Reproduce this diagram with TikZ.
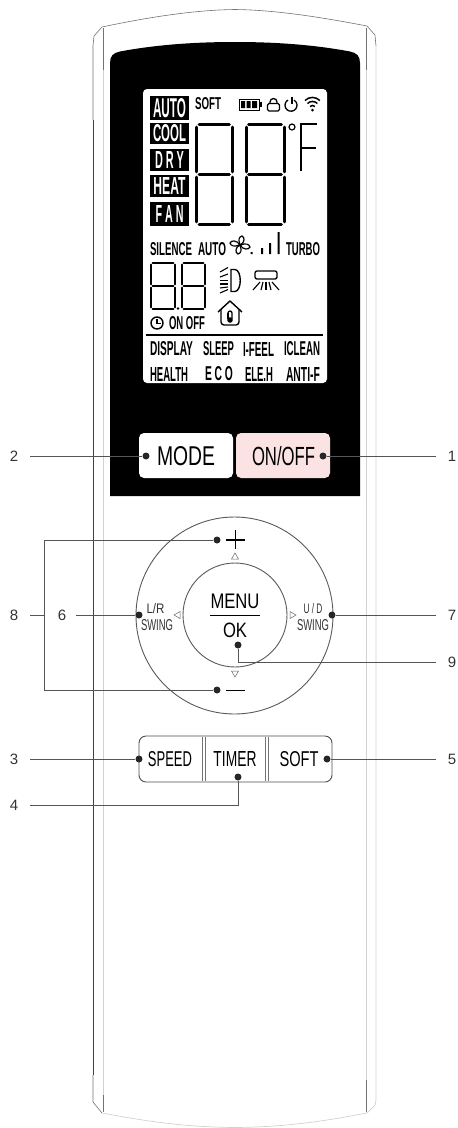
\documentclass[tikz,border=0pt]{standalone}
\usepackage{fontspec}
\usepackage{graphicx}
\setmainfont{Liberation Sans}
\usetikzlibrary{calc}
\definecolor{leadc}{HTML}{555555}
\definecolor{pinkb}{HTML}{FBE3E3}
\newcommand{\fit}[3]{\resizebox{#1pt}{#2pt}{#3}}
\newcommand{\lcd}[3]{\resizebox{#1pt}{#2pt}{\bfseries #3}}
\newcommand{\sevseg}[6]{%
 \begin{scope}[line width=#5pt,line cap=round]
 \draw ({#1+#6},{#2}) -- ({#1+#3-#6},{#2});
 \draw ({#1+#6},{#2+#4/2}) -- ({#1+#3-#6},{#2+#4/2});
 \draw ({#1+#6},{#2+#4}) -- ({#1+#3-#6},{#2+#4});
 \draw ({#1},{#2+#6}) -- ({#1},{#2+#4/2-#6});
 \draw ({#1+#3},{#2+#6}) -- ({#1+#3},{#2+#4/2-#6});
 \draw ({#1},{#2+#4/2+#6}) -- ({#1},{#2+#4-#6});
 \draw ({#1+#3},{#2+#4/2+#6}) -- ({#1+#3},{#2+#4-#6});
 \end{scope}}
\tikzset{
 leadline/.style={draw=leadc,line width=1pt},
 pin/.style={circle,fill=black!85,inner sep=0pt,minimum size=7pt},
 callout/.style={font=\fontsize{15}{15}\selectfont,text=black!80,inner sep=0pt},
 modebox/.style={fill=black,text=white,inner sep=0pt,minimum width=39pt},
 lcdtext/.style={inner sep=0pt,text=black},
 btntext/.style={inner sep=0pt,text=black},
 hull/.style={draw=black!55,line width=0.6pt},
 hullfaint/.style={draw=black!18,line width=0.7pt},
 ring/.style={draw=black!65,line width=0.9pt},
 key/.style={draw=black!70,line width=0.9pt,rounded corners=7pt},
 tick/.style={draw=black!60,line width=0.5pt,fill=white},
}
\begin{document}
\begin{tikzpicture}[x=1pt,y=-1pt]
\useasboundingbox (0,0) rectangle (458,1128);
% hull
\draw[hull] (93,120) -- (93,46) -- (94,36) -- (102,27) .. controls (140,19) and (190,10) .. (235,9.5) .. controls (280,10) and (330,19) .. (367,26) -- (375,35) -- (376,46);
\draw[hullfaint] (376,46) -- (376,1100) -- (375,1105) -- (367,1113);
\draw[draw=black!75,line width=0.8pt] (93,120) -- (93,1075);
\draw[hull] (93,1075) -- (93,1102) -- (102,1113);
\draw[hullfaint] (102,1113) .. controls (140,1120) and (180,1127) .. (235,1127.5) .. controls (290,1127) and (330,1120) .. (367,1113);
\draw[hullfaint] (103,28) -- (103,1095);
\draw[hull] (103,1095) -- (103,1112);
\draw[hullfaint] (366,28) -- (366,1080);
\draw[hull] (366,1080) -- (366,1112);
\draw[hull] (103,28) -- (103,70);
\draw[hull] (366,28) -- (366,70);
% black panel
\fill[black] (110,496) -- (110,63) .. controls (110,56) and (113,53) .. (120,51.5) .. controls (160,44) and (200,42) .. (235,42) .. controls (270,42) and (310,44) .. (350,51.5) .. controls (357,53) and (360,56) .. (360,63) -- (360,496) -- cycle;
\fill[white,rounded corners=4pt] (143,89) rectangle (327,383);
% mode labels
\node[modebox,minimum height=24pt] (mauto) at (169.5,108) {\lcd{33}{19}{AUTO}};
\node[modebox,minimum height=21pt] (mcool) at (169.5,133.5) {\lcd{33}{17}{COOL}};
\node[modebox,minimum height=22pt] (mdry) at (169.5,160) {\lcd{29}{17}{D R Y}};
\node[modebox,minimum height=22pt] (mheat) at (169.5,186) {\lcd{32}{17}{HEAT}};
\node[modebox,minimum height=24pt] (mfan) at (169.5,214) {\lcd{28}{17}{F A N}};
\node[lcdtext] (tsoft) at (208,104) {\lcd{26}{12}{SOFT}};
% battery
\draw[line width=1pt] (239,99) rectangle (259,110);
\fill (241,101) rectangle (245,108) (246.5,101) rectangle (250.5,108) (252,101) rectangle (257,108);
\fill (260,102) rectangle (262,107);
% lock
\draw[line width=1.3pt,rounded corners=1.5pt] (267.5,103.5) rectangle (279.5,111);
\draw[line width=1.3pt] (270,103.5) -- (270,102) arc[start angle=180,end angle=360,radius=3.5] -- (277,103.5);
% power
\draw[line width=1.3pt] (288,100) arc[start angle=240,end angle=-60,radius=6];
\draw[line width=1.3pt] (292,97) -- (292,104);
% wifi
\begin{scope}[line width=1.5pt]
\draw (305,100.5) arc[start angle=225,end angle=315,radius=10.5];
\draw (307.5,103.5) arc[start angle=225,end angle=315,radius=7];
\draw (310,106.5) arc[start angle=225,end angle=315,radius=3.5];
\fill (312.5,110) circle[radius=1.5];
\end{scope}
% big digits
\sevseg{196.5}{124.5}{35.5}{100}{3}{2.6}
\sevseg{246}{124.5}{38}{100}{3}{2.6}
% degree F
\draw[line width=1.2pt] (292,127) circle[radius=3];
\draw[line width=1.8pt] (317,124) -- (301,124) -- (301,171);
\draw[line width=1.8pt] (301,148) -- (316,148);
% fan row
\node[lcdtext] (tsil) at (171,249) {\lcd{42}{13}{SILENCE}};
\node[lcdtext] (tauto) at (212,249) {\lcd{28}{13}{AUTO}};
\begin{scope}[line width=1.2pt]
\draw (240,245) .. controls (234,247) and (231,246) .. (230,243) .. controls (231,240) and (237,240) .. (240,245);
\draw (240,245) .. controls (238,239) and (239,237) .. (242,236) .. controls (245,237) and (245,243) .. (240,245);
\draw (240,245) .. controls (246,243) and (249,244) .. (250,247) .. controls (249,250) and (243,250) .. (240,245);
\draw (240,245) .. controls (242,251) and (241,253) .. (238,254) .. controls (235,253) and (235,247) .. (240,245);
\end{scope}
\fill (250.5,252) rectangle (252.5,254) (261,248) rectangle (263,254) (269,243) rectangle (271,254) (277.5,232) rectangle (279.5,254);
\node[lcdtext] (tturbo) at (303,249) {\lcd{34}{13}{TURBO}};
% small digits
\sevseg{151}{263}{24}{46}{1.7}{1.5}
\sevseg{182}{263}{23}{46}{1.7}{1.5}
\fill (178,308.5) circle[radius=1.3];
% clock and on off
\draw[line width=1.4pt] (157,323) circle[radius=6];
\draw[line width=1.2pt] (157,319) -- (157,323.5) -- (161,323.5);
\node[lcdtext] (tonoff) at (187,323.5) {\lcd{36}{13}{ON OFF}};
% light icon
\draw[line width=1.4pt] (231,269.5) -- (235,269.5) .. controls (242,270) and (242,291) .. (235,291.5) -- (231,291.5) -- cycle;
\begin{scope}[line width=1.1pt]
\draw (220,272) -- (228,267.5);
\draw (220,277) -- (228,274);
\draw (220,280.5) -- (228,280.5);
\draw (220,284) -- (228,284);
\draw (220,288) -- (228,287);
\draw (220,293) -- (228,289.5);
\end{scope}
% air icon
\draw[line width=1.3pt,rounded corners=2pt] (255,279) -- (255,271) -- (277,271) -- (277,279) -- cycle;
\begin{scope}[line width=1.1pt]
\draw (260,282) -- (253,290);
\draw (263,282) -- (261,290);
\draw (266,282) -- (266,290);
\draw (269,282) -- (271,290);
\draw (272,282) -- (279,290);
\end{scope}
% house icon
\draw[line width=1.4pt,line join=round] (218,312) -- (230,301) -- (242,312);
\draw[line width=1.4pt,rounded corners=3pt] (221,309) -- (221,325) -- (239,325) -- (239,309);
\draw[line width=1.3pt] (228,313) arc[start angle=180,end angle=360,radius=2] -- (232,319);
\draw[line width=1.3pt] (228,313) -- (228,319);
\fill (230,320) circle[radius=2.8];
% separator
\draw[line width=1.3pt] (146,335) -- (323,335);
\node[lcdtext] (t1) at (171.5,349) {\lcd{43}{14}{DISPLAY}};
\node[lcdtext] (t2) at (218.5,349) {\lcd{31}{14}{SLEEP}};
\node[lcdtext] (t3) at (258.5,349) {\lcd{31}{14}{I-FEEL}};
\node[lcdtext] (t4) at (302,349) {\lcd{36}{14}{ICLEAN}};
\node[lcdtext] (t5) at (169,374) {\lcd{38}{14}{HEALTH}};
\node[lcdtext] (t6) at (219,374) {\lcd{28}{14}{E C O}};
\node[lcdtext] (t7) at (259,374) {\lcd{28}{14}{ELE.H}};
\node[lcdtext] (t8) at (303,374) {\lcd{34}{14}{ANTI-F}};
% top buttons
\fill[white,rounded corners=5pt] (139,433) -- (233,433) -- (233,478) -- (139,478) -- cycle;
\fill[pinkb,rounded corners=5pt] (236,433) -- (330,433) -- (330,478) -- (236,478) -- cycle;
\node[btntext] (tmode) at (186,456) {\fit{58}{19}{MODE}};
\node[btntext] (tonf) at (283.5,456) {\fit{63}{19}{ON/OFF}};
% wheel
\draw[ring] (234.5,615.5) circle[radius=98.5];
\draw[ring] (235,615) circle[radius=52];
\node[btntext] (tmenu) at (235,601) {\fit{49}{14.5}{MENU}};
\node[btntext] (tok) at (235,630) {\fit{24}{14.5}{OK}};
\draw[line width=0.9pt] (210,615) -- (260,615);
\draw[line width=1.1pt] (226,540) -- (245,540);
\draw[line width=1.1pt] (235.5,530) -- (235.5,549);
\draw[line width=1.5pt] (226,690.5) -- (245,690.5);
\draw[tick] (231.5,559) -- (238.5,559) -- (235,553) -- cycle;
\draw[tick] (231.5,671) -- (238.5,671) -- (235,677) -- cycle;
\draw[tick] (180,611.5) -- (180,618.5) -- (174,615) -- cycle;
\draw[tick] (290,611.5) -- (290,618.5) -- (296,615) -- cycle;
\node[btntext,text=black!80] (tlr) at (155.5,609) {\fit{18}{10}{L/R}};
\node[btntext,text=black!80] (tsl) at (157,625) {\fit{32}{11}{SWING}};
\node[btntext,text=black!80] (tud) at (313,609) {\fit{19}{10}{U / D}};
\node[btntext,text=black!80] (tsr) at (313,625) {\fit{32}{11}{SWING}};
% bottom key row
\draw[key] (139,736) rectangle (332,782);
\draw[draw=black!55,line width=0.7pt] (202,737) -- (202,781) (205,737) -- (205,781) (265,737) -- (265,781) (268,737) -- (268,781);
\node[btntext] (tspeed) at (170,759) {\fit{44}{15}{SPEED}};
\node[btntext] (ttimer) at (235,759) {\fit{43}{15}{TIMER}};
\node[btntext] (tsoftk) at (299,759) {\fit{39}{15}{SOFT}};
% pins
\node[pin] (p2) at (146,456) {};
\node[pin] (p1) at (323,456) {};
\node[pin] (pplus) at (217,540) {};
\node[pin] (pminus) at (217,690) {};
\node[pin] (p6) at (139,615) {};
\node[pin] (p7) at (332,615) {};
\node[pin] (p9) at (238,645) {};
\node[pin] (p3) at (139,759) {};
\node[pin] (p5) at (327,759) {};
\node[pin] (p4) at (238,777) {};
% callouts
\node[callout] (l2) at (14,456) {2};
\node[callout] (l1) at (452,456) {1};
\node[callout] (l8) at (14,615) {8};
\node[callout] (l6) at (62,615) {6};
\node[callout] (l7) at (452,615) {7};
\node[callout] (l9) at (452,662) {9};
\node[callout] (l3) at (14,759) {3};
\node[callout] (l5) at (452,759) {5};
\node[callout] (l4) at (14,805) {4};
% connector free ends
\coordinate (e2) at (30,456);
\coordinate (e1) at (436,456);
\coordinate (e8) at (30,615);
\coordinate (b8) at (44,615);
\coordinate (e6) at (76,615);
\coordinate (e7) at (436,615);
\coordinate (e9) at (436,662);
\coordinate (e3) at (30,759);
\coordinate (e5) at (436,759);
\coordinate (e4) at (30,805);
\coordinate (bt) at (44,540);
\coordinate (bb) at (44,690);
\draw[leadline] (e2) -- (p2);
\draw[leadline] (p1) -- (e1);
\draw[leadline] (e8) -- (b8);
\draw[leadline] (pplus) -- (bt) -- (bb) -- (pminus);
\draw[leadline] (e6) -- (p6);
\draw[leadline] (p7) -- (e7);
\draw[leadline] (p9) |- (e9);
\draw[leadline] (e3) -- (p3);
\draw[leadline] (p5) -- (e5);
\draw[leadline] (p4) |- (e4);
\end{tikzpicture}
\end{document}
